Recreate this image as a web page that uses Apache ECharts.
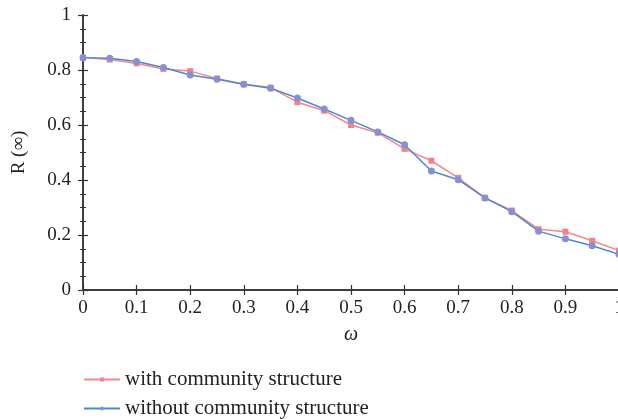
<!DOCTYPE html>
<html>
<head>
<meta charset="utf-8">
<script src="https://cdn.jsdelivr.net/npm/echarts@6/dist/echarts.min.js"></script>
<style>
  html, body { margin: 0; padding: 0; background: #fff; }
  #chart { width: 618px; height: 419px; }
</style>
</head>
<body>
<div id="chart"></div>
<script>
// ω values
const omega = [0, 0.05, 0.1, 0.15, 0.2, 0.25, 0.3, 0.35, 0.4, 0.45, 0.5,
               0.55, 0.6, 0.65, 0.7, 0.75, 0.8, 0.85, 0.9, 0.95, 1.0]
// R(∞) with community structure
const withCommunity = [0.845, 0.838, 0.824, 0.804, 0.796, 0.769, 0.748, 0.736, 0.683, 0.652, 0.600,
                       0.572, 0.513, 0.470, 0.408, 0.335, 0.289, 0.221, 0.212, 0.179, 0.143]
// R(∞) without community structure
const withoutCommunity = [0.845, 0.843, 0.831, 0.809, 0.782, 0.766, 0.748, 0.734, 0.698, 0.658, 0.617,
                          0.575, 0.528, 0.433, 0.401, 0.335, 0.285, 0.214, 0.186, 0.161, 0.130]
const seriesNames = ['with community structure', 'without community structure']

const font = 'Liberation Serif'
const axisColor = '#333'

const toPairs = vals => omega.map((x, i) => [x, vals[i]])

// one legend per row, stacked like the original
const legendRow = (name, top) => ({
    data: [name],
    left: 78,
    top: top,
    itemWidth: 36,
    itemHeight: 5,
    itemGap: 8,
    textStyle: { fontFamily: font, fontSize: 21, color: '#222' }
})

const chart = echarts.init(document.getElementById('chart'))

const option = {
    animation: false,
    textStyle: { fontFamily: font },
    grid: { left: 83, right: -1, top: 15, bottom: 129, outerBoundsMode: 'none', containLabel: false },
    legend: [legendRow(seriesNames[0], 364), legendRow(seriesNames[1], 393)],
    xAxis: [{
        type: 'value', min: 0, max: 1, interval: 0.1,
        name: 'ω', nameLocation: 'middle', nameGap: 35,
        nameTextStyle: { fontFamily: font, fontSize: 20, fontStyle: 'italic', color: '#222' },
        axisLine: { lineStyle: { color: axisColor, width: 1.5 } },
        axisTick: { inside: true, length: 5, lineStyle: { color: axisColor, width: 1.2 } },
        axisLabel: { fontFamily: font, fontSize: 19, color: '#222', margin: 9, showMaxLabel: true },
        splitLine: { show: false }
    }, {
        type: 'value', min: 0, max: 1, interval: 0.1, position: 'top',
        axisLine: { lineStyle: { color: axisColor, width: 1.5 } },
        axisTick: { inside: true, length: 5, lineStyle: { color: axisColor, width: 1.2 } },
        axisLabel: { show: false },
        splitLine: { show: false }
    }],
    yAxis: [{
        type: 'value', min: 0, max: 1, interval: 0.2,
        name: 'R (∞)', nameLocation: 'middle', nameGap: 54,
        nameTextStyle: { fontFamily: font, fontSize: 19, color: '#222' },
        axisLine: { show: true, lineStyle: { color: axisColor, width: 1.5 } },
        axisTick: { inside: true, length: 5, lineStyle: { color: axisColor, width: 1.2 } },
        minorTick: { show: true, splitNumber: 4, length: 3, lineStyle: { color: axisColor } },
        axisLabel: { fontFamily: font, fontSize: 19, color: '#222', margin: 12 },
        splitLine: { show: false }
    }, {
        type: 'value', min: 0, max: 1, interval: 0.2, position: 'right',
        axisLine: { show: true, lineStyle: { color: axisColor, width: 1.5 } },
        axisTick: { inside: true, length: 5, lineStyle: { color: axisColor, width: 1.2 } },
        minorTick: { show: true, splitNumber: 4, length: 3, lineStyle: { color: axisColor } },
        axisLabel: { show: false },
        splitLine: { show: false }
    }],
    series: [{
        name: seriesNames[0],
        type: 'line',
        data: toPairs(withCommunity),
        symbol: 'rect',
        symbolSize: 6,
        lineStyle: { color: '#f4898c', width: 1.5 },
        itemStyle: { color: '#f0848a' },
        z: 2
    }, {
        name: seriesNames[1],
        type: 'line',
        data: toPairs(withoutCommunity),
        symbol: 'circle',
        symbolSize: 7,
        lineStyle: { color: '#4f86d4', width: 1.5 },
        itemStyle: { color: '#8a8fd2' },
        z: 3
    }]
}

chart.setOption(option)
window.onresize = () => chart.resize()
</script>
</body>
</html>
